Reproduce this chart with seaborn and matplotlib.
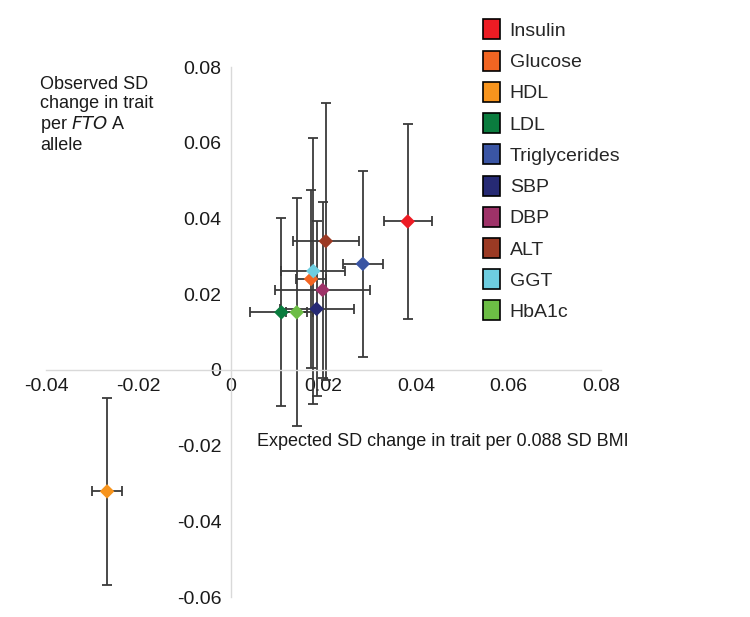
"""
FTO: observed vs expected SD change in trait, with error bars.
"""
import matplotlib
matplotlib.use("Agg")
from matplotlib import pyplot
from matplotlib.patches import Patch
import seaborn
import pandas as pd

traits = ["Insulin", "Glucose", "HDL", "LDL", "Triglycerides",
          "SBP", "DBP", "ALT", "GGT", "HbA1c"]
expected = [0.0382, 0.0173, -0.0268, 0.0109, 0.0285,
            0.0185, 0.0198, 0.0205, 0.0178, 0.0142]
expected_err = [0.0052, 0.0032, 0.0032, 0.0068, 0.0043,
                0.0080, 0.0103, 0.0071, 0.0069, 0.0023]
observed = [0.0392, 0.0240, -0.0321, 0.0152, 0.0280,
            0.0161, 0.0211, 0.0340, 0.0261, 0.0152]
observed_err = [0.0257, 0.0236, 0.0246, 0.0248, 0.0246,
                0.0231, 0.0232, 0.0366, 0.0351, 0.0301]
colors = ["#ed1c24", "#f26522", "#f7941d", "#0a7c3e", "#3a55a4",
          "#262a74", "#9e3268", "#9b3a24", "#6dcde0", "#6cbd45"]

x_ticks = [-0.04, -0.02, 0, 0.02, 0.04, 0.06, 0.08]
y_ticks = [-0.06, -0.04, -0.02, 0, 0.02, 0.04, 0.06, 0.08]


def fmt(v):
    return "0" if v == 0 else f"{v:g}"


def main():
    df = pd.DataFrame({
        "trait": traits,
        "expected": expected,
        "expected_err": expected_err,
        "observed": observed,
        "observed_err": observed_err,
    })
    palette = dict(zip(traits, colors))

    seaborn.set_style("white")
    pyplot.rcParams["font.family"] = ["Liberation Sans", "DejaVu Sans"]

    fig = pyplot.figure(figsize=(7.5, 6.17), dpi=100)
    ax = fig.add_axes([46 / 750, 20 / 617, 555 / 750, 530 / 617])

    # error bars first so markers sit on top
    ax.errorbar(df["expected"], df["observed"],
                xerr=df["expected_err"], yerr=df["observed_err"],
                fmt="none", ecolor="#3a3a3a", elinewidth=1.3,
                capsize=3.5, capthick=1.3, zorder=2)
    seaborn.scatterplot(data=df, x="expected", y="observed", hue="trait",
                        palette=palette, marker="D", s=55, linewidth=0,
                        legend=False, ax=ax, zorder=3)

    ax.set_xlim(-0.04, 0.08)
    ax.set_ylim(-0.06, 0.08)
    ax.set_xticks(x_ticks)
    ax.set_yticks(y_ticks)
    ax.set_xticklabels([fmt(v) for v in x_ticks])
    ax.set_yticklabels([fmt(v) for v in y_ticks])

    for side in ["top", "right"]:
        ax.spines[side].set_visible(False)
    ax.spines["left"].set_position(("data", 0))
    ax.spines["bottom"].set_position(("data", 0))
    for side in ["left", "bottom"]:
        ax.spines[side].set_color("#d9d9d9")
        ax.spines[side].set_linewidth(1.0)
    ax.tick_params(axis="both", direction="out", length=4, width=1,
                   color="#d9d9d9", labelsize=14, labelcolor="#1a1a1a")
    ax.tick_params(axis="x", pad=2)
    ax.tick_params(axis="y", pad=3)
    ax.set_xlabel("")
    ax.set_ylabel("")

    fig.text(257 / 750, 1 - 441 / 617,
             "Expected SD change in trait per 0.088 SD BMI",
             fontsize=13, va="center", ha="left", color="#1a1a1a")
    fig.text(40 / 750, 1 - 76 / 617,
             "Observed SD\nchange in trait\nper $\\it{FTO}$ A\nallele",
             fontsize=13, va="top", ha="left", linespacing=1.15,
             color="#1a1a1a")

    handles = [Patch(facecolor=c, edgecolor="black", linewidth=1.2, label=t)
               for t, c in zip(traits, colors)]
    fig.legend(handles=handles, loc="upper left",
               bbox_to_anchor=(465 / 750, 1 - 2 / 617), frameon=False,
               fontsize=14, handlelength=0.9, handleheight=1.2,
               handletextpad=0.5, labelspacing=0.55)

    fig.savefig("out.png", dpi=100)


if __name__ == "__main__":
    main()
